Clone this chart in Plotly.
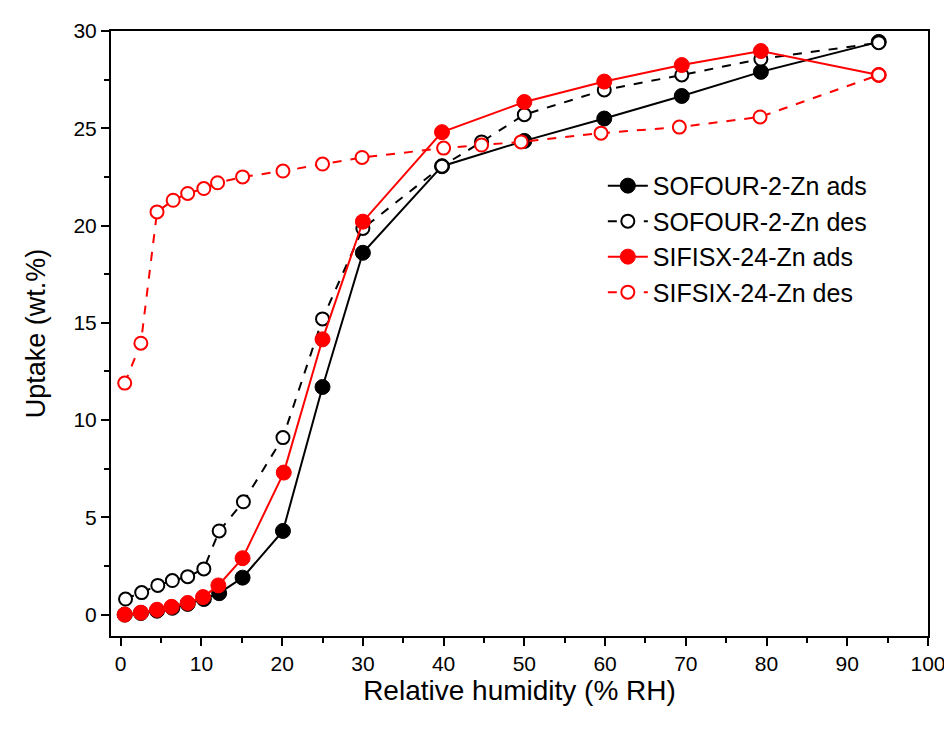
import plotly.graph_objects as go

# SOFOUR-2-Zn adsorption
sof_ads_rh = [0.5, 2.5, 4.5, 6.4, 8.3, 10.3, 12.2, 15.1, 20.1, 25.0, 30.0, 39.8, 50.0, 59.9, 69.5, 79.3, 93.9]
sof_ads_up = [0.0, 0.08, 0.2, 0.35, 0.55, 0.8, 1.1, 1.9, 4.3, 11.7, 18.6, 23.05, 24.35, 25.5, 26.66, 27.9, 29.44]

# SOFOUR-2-Zn desorption
sof_des_rh = [0.6, 2.6, 4.6, 6.4, 8.3, 10.3, 12.2, 15.2, 20.1, 25.0, 30.0, 39.8, 44.7, 50.0, 59.9, 69.5, 79.3, 93.9]
sof_des_up = [0.8, 1.13, 1.5, 1.75, 1.95, 2.35, 4.3, 5.8, 9.1, 15.2, 19.85, 23.05, 24.3, 25.7, 26.97, 27.74, 28.56, 29.4]

# SIFISX-24-Zn adsorption
sif_ads_rh = [0.5, 2.5, 4.5, 6.3, 8.3, 10.2, 12.1, 15.1, 20.2, 25.0, 30.0, 39.8, 50.0, 59.9, 69.5, 79.3, 93.9]
sif_ads_up = [0.0, 0.1, 0.25, 0.4, 0.6, 0.9, 1.5, 2.9, 7.3, 14.15, 20.2, 24.8, 26.35, 27.4, 28.25, 28.97, 27.74]

# SIFSIX-24-Zn desorption
sif_des_rh = [0.5, 2.5, 4.5, 6.5, 8.3, 10.3, 12.0, 15.1, 20.1, 25.0, 29.9, 40.0, 44.7, 49.6, 59.5, 69.2, 79.2, 93.9]
sif_des_up = [11.9, 13.95, 20.7, 21.3, 21.65, 21.9, 22.2, 22.5, 22.8, 23.16, 23.5, 23.98, 24.14, 24.3, 24.75, 25.06, 25.58, 27.74]

x_title = "Relative humidity (% RH)"
y_title = "Uptake (wt.%)"

FONT = "Liberation Sans, Arial, sans-serif"

fig = go.Figure()

fig.add_trace(go.Scatter(
    x=sof_ads_rh, y=sof_ads_up, name="SOFOUR-2-Zn ads", mode="lines+markers",
    line=dict(color="black", width=2),
    marker=dict(symbol="circle", size=15, color="black", line=dict(color="black", width=1)),
))
fig.add_trace(go.Scatter(
    x=sof_des_rh, y=sof_des_up, name="SOFOUR-2-Zn des", mode="lines+markers",
    line=dict(color="black", width=2, dash="dash"),
    marker=dict(symbol="circle", size=13, color="white", line=dict(color="black", width=2)),
))
fig.add_trace(go.Scatter(
    x=sif_ads_rh, y=sif_ads_up, name="SIFISX-24-Zn ads", mode="lines+markers",
    line=dict(color="#ff0000", width=2),
    marker=dict(symbol="circle", size=15, color="#ff0000", line=dict(color="#ff0000", width=1)),
))
fig.add_trace(go.Scatter(
    x=sif_des_rh, y=sif_des_up, name="SIFSIX-24-Zn des", mode="lines+markers",
    line=dict(color="#ff0000", width=2, dash="dash"),
    marker=dict(symbol="circle", size=13, color="white", line=dict(color="#ff0000", width=2)),
))

axis_common = dict(
    showline=True, linecolor="black", linewidth=2, mirror=True,
    ticks="outside", ticklen=8, tickwidth=2, tickcolor="black",
    showgrid=False, zeroline=False, automargin=False,
    tickfont=dict(family=FONT, size=21, color="black"),
)

fig.update_xaxes(
    range=[-1.2, 100], tick0=0, dtick=10,
    minor=dict(ticks="outside", ticklen=5, tickwidth=2, tickcolor="black", dtick=5, tick0=0, showgrid=False),
    title=dict(text=x_title, font=dict(family=FONT, size=28, color="black"), standoff=2),
    **axis_common,
)
fig.update_yaxes(
    range=[-1.1, 30], tick0=0, dtick=5,
    minor=dict(ticks="outside", ticklen=5, tickwidth=2, tickcolor="black", dtick=2.5, tick0=0, showgrid=False),
    title=dict(text=y_title, font=dict(family=FONT, size=27, color="black"), standoff=20),
    **axis_common,
)

fig.update_layout(
    width=944, height=723,
    margin=dict(l=103, r=24, t=23, b=95),
    paper_bgcolor="white", plot_bgcolor="white",
    font=dict(family=FONT, color="black"),
    legend=dict(
        x=0.602, y=0.782, xanchor="left", yanchor="top",
        bgcolor="rgba(0,0,0,0)", borderwidth=0,
        font=dict(family=FONT, size=25, color="black"),
        tracegroupgap=0, itemwidth=40,
    ),
)

fig.write_html("out.html")
